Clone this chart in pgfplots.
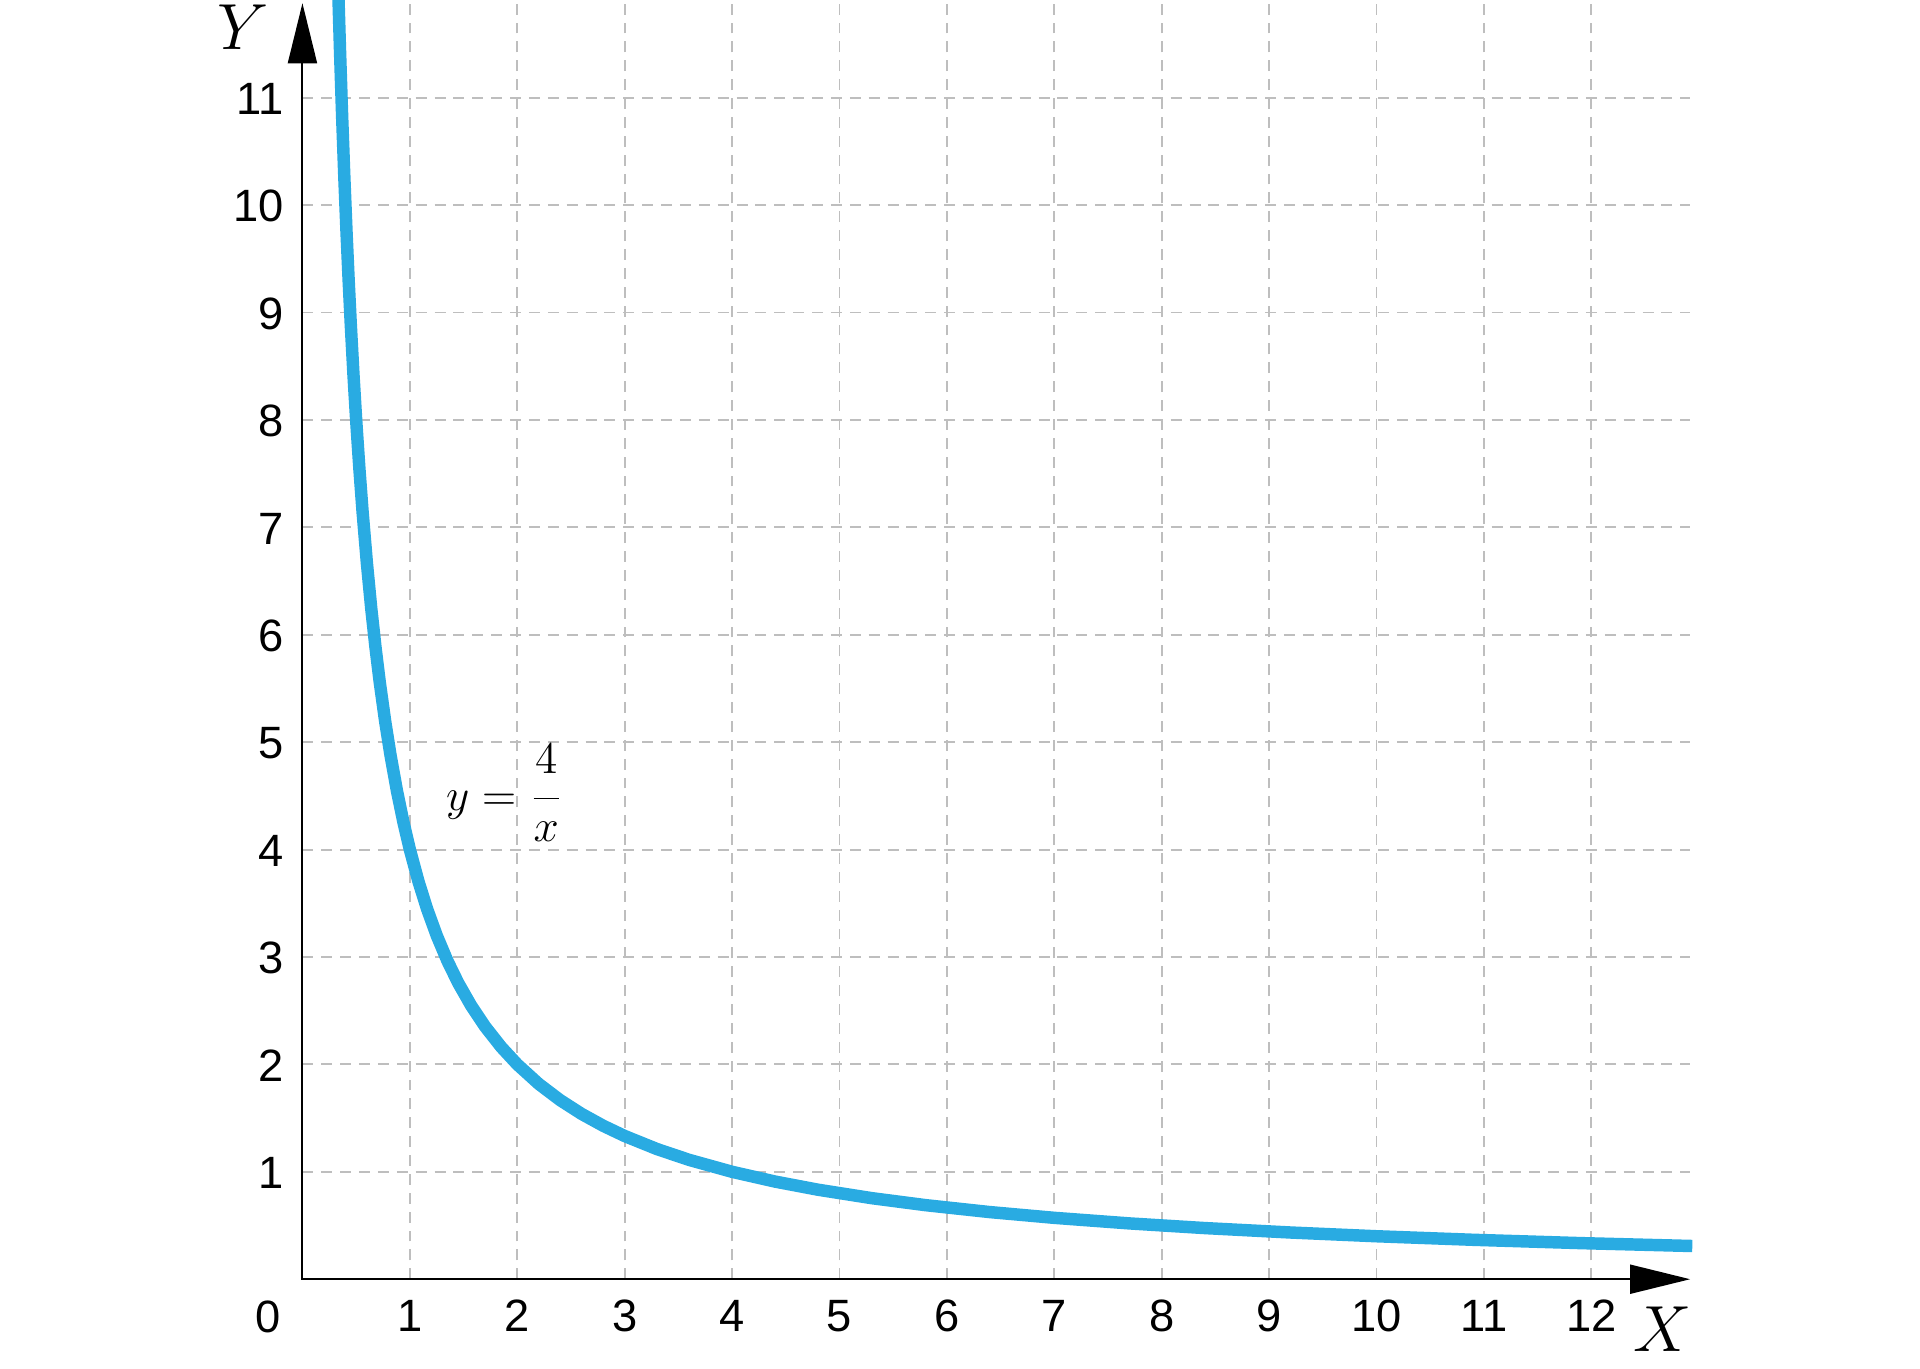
\documentclass[border=0pt]{standalone}
\usepackage{pgfplots}
\pgfplotsset{compat=1.18}
\usepackage{fontspec}
\setmainfont{Liberation Sans}
\usetikzlibrary{arrows.meta}
\definecolor{curveblue}{RGB}{41,171,226}
\definecolor{gridgray}{RGB}{190,190,190}
\pgfplotstableread{
x y
0.32 12.5
0.336 11.905
0.35 11.4286
0.37 10.8108
0.39 10.2564
0.41 9.7561
0.43 9.3023
0.45 8.8889
0.475 8.4211
0.5 8.0
0.53 7.5472
0.56 7.1429
0.6 6.6667
0.64 6.25
0.68 5.8824
0.72 5.5556
0.77 5.1948
0.82 4.8780
0.88 4.5455
0.94 4.2553
1.0 4.0
1.08 3.7037
1.16 3.4483
1.25 3.2
1.35 2.9630
1.45 2.7586
1.57 2.5478
1.7 2.3529
1.85 2.1622
2.0 2.0
2.2 1.8182
2.4 1.6667
2.6 1.5385
2.8 1.4286
3.0 1.3333
3.3 1.2121
3.6 1.1111
4.0 1.0
4.4 0.9091
4.8 0.8333
5.3 0.7547
5.8 0.6897
6.4 0.625
7.0 0.5714
7.7 0.5195
8.4 0.4762
9.2 0.4348
10.0 0.4
10.9 0.3670
11.9 0.3361
12.94 0.3091
}\curvedata
\begin{document}
\begin{tikzpicture}
\begin{axis}[
  x=1cm, y=1cm,
  xmin=0, xmax=12.92, ymin=0, ymax=11.95,
  axis line style={draw=none},
  clip=false,
  xtick={1,...,12}, ytick={1,...,11},
  xtick pos=bottom, ytick pos=left,
  major tick length=0pt,
  grid=major,
  major grid style={gridgray, line width=0.5pt, dash pattern=on 2.9pt off 2.1pt},
  tick label style={font=\fontsize{12}{14}\selectfont},
  /pgf/number format/assume math mode=true,
  xticklabel style={yshift=-0.07cm},
  yticklabel style={xshift=-0.05cm, yshift=-0.01cm},
]
\coordinate (BL) at (axis cs:-2.816,-0.832);
\coordinate (TR) at (axis cs:15.06,11.91);
\addplot[curveblue, line width=3.3pt, line join=round, line cap=butt] table[x=x,y=y] {\curvedata};
\draw[black, line width=0.55pt, line join=miter, {Triangle[length=0.56cm,width=0.27cm]}-{Triangle[length=0.56cm,width=0.27cm]}]
  (axis cs:0,11.88) -- (axis cs:0,0) -- (axis cs:12.92,0);
\node[inner sep=0pt, font=\fontsize{12}{14}\selectfont] at (axis cs:-0.316,-0.353) {0};
\node[inner sep=0pt, font=\fontsize{17.4}{20}\selectfont] at (axis cs:12.66,-0.47) {$X$};
\node[inner sep=0pt, font=\fontsize{17.4}{20}\selectfont] at (axis cs:-0.55,11.66) {$Y$};
\node[inner sep=0pt, font=\fontsize{12.5}{15}\selectfont] at (axis cs:1.883,4.53) {$\displaystyle y=\frac{\raisebox{1.6pt}{$4$}}{x}$};
\end{axis}
\pgfresetboundingbox
\path (BL) rectangle (TR);
\end{tikzpicture}
\end{document}
